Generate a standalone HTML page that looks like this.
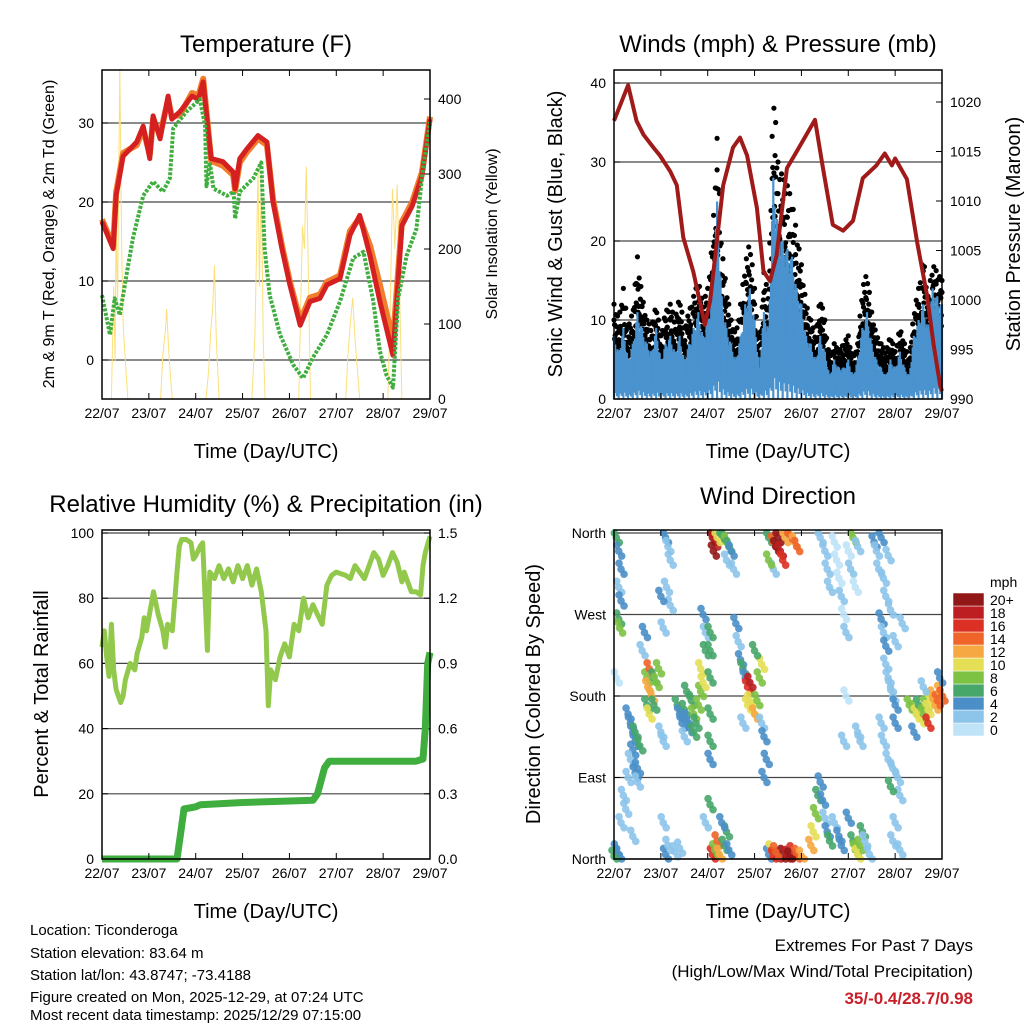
<!DOCTYPE html>
<html><head><meta charset="utf-8"><style>
body{margin:0;background:#fff;}
svg{font-family:"Liberation Sans",sans-serif;}
</style></head><body>
<svg id="c" width="1024" height="1024" viewBox="0 0 1024 1024">
<text x="266" y="52" font-size="24" text-anchor="middle">Temperature (F)</text>
<text x="778" y="52" font-size="24" text-anchor="middle">Winds (mph) &amp; Pressure (mb)</text>
<text x="266" y="512" font-size="24" text-anchor="middle">Relative Humidity (%) &amp; Precipitation (in)</text>
<text x="778" y="504" font-size="24" text-anchor="middle">Wind Direction</text>
<text transform="translate(54,234) rotate(-90)" font-size="16" text-anchor="middle">2m &amp; 9m T (Red, Orange) &amp; 2m Td (Green)</text>
<text transform="translate(497,234) rotate(-90)" font-size="16" text-anchor="middle">Solar Insolation (Yellow)</text>
<text transform="translate(562,234) rotate(-90)" font-size="20" text-anchor="middle">Sonic Wind &amp; Gust (Blue, Black)</text>
<text transform="translate(1020,234) rotate(-90)" font-size="20" text-anchor="middle">Station Pressure (Maroon)</text>
<text transform="translate(48,694) rotate(-90)" font-size="20" text-anchor="middle">Percent &amp; Total Rainfall</text>
<text transform="translate(540,694) rotate(-90)" font-size="20" text-anchor="middle">Direction (Colored By Speed)</text>
<g font-size="15">
<text x="30" y="935">Location: Ticonderoga</text>
<text x="30" y="958">Station elevation: 83.64 m</text>
<text x="30" y="980">Station lat/lon: 43.8747; -73.4188</text>
<text x="30" y="1002">Figure created on Mon, 2025-12-29, at 07:24 UTC</text>
<text x="30" y="1020">Most recent data timestamp: 2025/12/29 07:15:00</text>
</g>
<g font-size="17" text-anchor="end">
<text x="973" y="951">Extremes For Past 7 Days</text>
<text x="973" y="977">(High/Low/Max Wind/Total Precipitation)</text>
<text x="973" y="1004" fill="#c8202a" font-weight="bold">35/-0.4/28.7/0.98</text>
</g>
</svg>
<script>
// ---------- data ----------
const dayLabels=["22/07","23/07","24/07","25/07","26/07","27/07","28/07","29/07"];
const tempTicks=[0,10,20,30];
const solarTicks=[0,100,200,300,400];
const windTicks=[0,10,20,30,40];
const presTicks=[990,995,1000,1005,1010,1015,1020];
const rhTicks=[0,20,40,60,80,100];
const rainTicks=["0.0","0.3","0.6","0.9","1.2","1.5"];
const dirLabels=["North","East","South","West","North"];
const speedLabels=["0","2","4","6","8","10","12","14","16","18","20+"];
const speedColors=["#bfe3f7","#8cc4ea","#4a8fc8","#47a66a","#7dc242","#e4df55","#f6a842","#ee6429","#dc3024","#bd1e22","#921818"];

const tempRed=[[0,17.5],[0.24,14.1],[0.3,20.8],[0.45,25.8],[0.74,27.6],[0.88,29.6],[1.02,25.5],[1.09,30.9],[1.24,28],[1.41,33.4],[1.49,30.5],[1.66,31.4],[1.92,33.4],[2.06,33],[2.16,35.2],[2.26,29.3],[2.33,25.5],[2.58,25.1],[2.8,23.8],[2.84,21.7],[2.94,25.5],[3.09,26.7],[3.33,28.4],[3.52,27.6],[3.65,20],[3.84,14.1],[4.01,9.5],[4.23,4.4],[4.44,7.4],[4.65,7.8],[4.8,9.5],[5.08,10.3],[5.29,15.8],[5.5,18.3],[5.72,13.2],[5.93,7.4],[6.21,0.6],[6.4,17],[6.62,19.5],[6.83,23.3],[7.0,30.5]];
const tempOrange=[[0,17.8],[0.24,14.5],[0.3,21.2],[0.45,26.2],[0.74,27.2],[0.88,29.2],[1.02,26],[1.09,30.5],[1.24,28.5],[1.41,33],[1.49,30.8],[1.66,31],[1.92,33.8],[2.06,33.5],[2.16,35.6],[2.26,29.6],[2.33,25.2],[2.58,24.6],[2.8,23.4],[2.84,21.4],[2.94,25],[3.09,26.3],[3.33,28],[3.52,27.2],[3.65,20.4],[3.84,14.5],[4.01,9.9],[4.23,5],[4.44,7.9],[4.65,8.3],[4.8,9.9],[5.08,10.7],[5.29,16.3],[5.5,18],[5.72,14.5],[5.93,9.5],[6.21,2.5],[6.4,17.5],[6.62,20],[6.83,23.8],[7.0,30.8]];
const tempGreen=[[0,8.2],[0.17,3.2],[0.27,7.8],[0.38,5.7],[0.52,10.7],[0.66,15.4],[0.88,20.8],[1.09,22.6],[1.3,21.3],[1.45,23],[1.52,29.3],[1.8,31.4],[2.09,33],[2.2,29.6],[2.23,22],[2.3,25],[2.38,21.7],[2.67,20.8],[2.81,21.3],[2.84,17.9],[2.94,21.3],[3.23,23],[3.4,25],[3.47,14.1],[3.58,8.2],[3.8,3.2],[4.08,-0.6],[4.29,-2.3],[4.5,0.3],[4.8,3.2],[5.08,7.4],[5.36,12.9],[5.58,13.7],[5.79,7.4],[5.93,1.1],[6.07,-1.9],[6.21,-3.5],[6.32,7.8],[6.5,13.2],[6.71,16.6],[6.85,24.2],[7.0,30.1]];
const solar=[[0,0],[0.2,0],[0.25,150],[0.28,50],[0.3,250],[0.33,120],[0.38,440],[0.42,200],[0.45,100],[0.5,50],[0.55,0],[1.25,0],[1.3,60],[1.35,90],[1.38,120],[1.42,70],[1.45,40],[1.5,0],[2.22,0],[2.28,40],[2.32,90],[2.36,120],[2.4,178],[2.44,80],[2.5,0],[3.2,0],[3.26,80],[3.3,200],[3.33,310],[3.36,150],[3.4,300],[3.44,80],[3.48,0],[4.2,0],[4.25,150],[4.28,230],[4.32,200],[4.36,310],[4.4,180],[4.45,0],[5.2,0],[5.25,60],[5.3,100],[5.35,135],[5.4,80],[5.5,0],[6.1,0],[6.15,120],[6.2,280],[6.25,200],[6.3,286],[6.35,150],[6.4,0],[7,0]];

const windHi=[8,6,9,5,7,11,9,7,6,9,5,7,8,6,8,5,7,9,11,8,10,14,25,13,9,7,5,8,12,14,10,4,11,9,28,22,20,19,18,14,12,8,7,5,8,6,3,5,4,4,5,3,5,9,11,7,5,4,3,5,4,6,4,3,8,10,12,9,14,13,12];
const gustHi=[12,10,14,9,11,18,13,10,9,12,8,11,12,10,13,9,11,13,15,12,14,20,33,19,14,10,8,12,17,20,14,6,16,13,40,30,28,27,25,21,17,12,10,8,13,10,5,7,6,7,8,5,7,14,16,11,8,7,6,8,6,9,7,5,11,14,18,13,17,16,15];
const pressure=[[0,1018.1],[0.3,1021.7],[0.48,1018.1],[0.63,1016.7],[0.84,1015.4],[0.98,1014.6],[1.2,1013],[1.34,1011.6],[1.48,1006.3],[1.69,1002.9],[1.94,997.5],[2.05,999.9],[2.33,1011.6],[2.54,1015.4],[2.69,1016.4],[2.84,1014.6],[3.05,1009.3],[3.19,1002.9],[3.33,1001.9],[3.47,1004.5],[3.69,1013.3],[3.9,1015],[4.29,1018.2],[4.46,1013.3],[4.67,1007.6],[4.89,1007],[5.1,1008],[5.31,1012.3],[5.6,1013.6],[5.78,1014.8],[5.93,1013.6],[6.0,1014.3],[6.25,1012.2],[6.47,1005.8],[6.68,1000.5],[6.82,995.5],[6.96,991.4],[7.0,990.8]];

const rh=[[0,65],[0.05,70],[0.1,62],[0.15,56],[0.2,72],[0.25,58],[0.3,52],[0.4,48],[0.45,50],[0.5,55],[0.6,60],[0.7,58],[0.75,63],[0.85,68],[0.9,74],[0.95,70],[1.05,78],[1.1,82],[1.2,75],[1.3,70],[1.35,65],[1.4,72],[1.5,70],[1.6,88],[1.65,96],[1.7,98],[1.8,98],[1.9,97],[1.95,92],[2.0,93],[2.1,96],[2.15,97],[2.2,80],[2.25,64],[2.3,88],[2.4,86],[2.5,90],[2.6,86],[2.7,89],[2.8,85],[2.9,90],[3.0,86],[3.1,90],[3.2,84],[3.3,89],[3.4,82],[3.5,70],[3.55,47],[3.6,58],[3.7,55],[3.8,62],[3.9,66],[4.0,62],[4.1,72],[4.2,70],[4.3,80],[4.4,74],[4.5,78],[4.6,75],[4.7,72],[4.8,84],[4.9,87],[5.0,88],[5.2,87],[5.3,86],[5.4,90],[5.5,88],[5.6,86],[5.7,90],[5.8,94],[5.9,92],[6.0,87],[6.1,90],[6.2,94],[6.3,91],[6.4,85],[6.45,88],[6.6,82],[6.7,82],[6.8,81],[6.85,90],[6.9,94],[7.0,99]];
const rain=[[0,0],[1.6,0],[1.68,0.12],[1.75,0.23],[2.0,0.24],[2.1,0.25],[3.0,0.26],[4.5,0.27],[4.6,0.3],[4.75,0.42],[4.85,0.45],[6.7,0.45],[6.85,0.46],[6.9,0.6],[6.95,0.9],[7.0,0.95]];

const dirObs=[[0.05,355,6],[0.1,340,4],[0.15,320,4],[0.1,300,3],[0.15,285,4],[0.1,265,7],[0.12,255,8],[0.05,200,1],
[0.3,160,4],[0.35,150,4],[0.4,140,4],[0.45,130,5],[0.4,120,4],[0.35,110,3],[0.5,100,4],[0.45,95,4],[0.3,90,3],[0.5,85,2],[0.55,125,6],[0.45,140,6],[0.2,70,2],[0.25,55,2],[0.15,40,3],[0.05,10,4],[0.1,5,5],
[0.7,200,8],[0.72,190,12],[0.75,210,14],[0.8,180,12],[0.7,170,6],[0.75,160,10],[0.85,200,7],[0.9,195,9],[0.95,210,8],[0.85,170,6],[0.6,230,3],[0.65,250,4],[1.0,140,3],[1.05,130,2],
[1.1,355,4],[1.15,345,3],[1.2,330,2],[1.12,300,2],[1.2,280,2],[1.0,290,4],[1.05,255,3],[1.1,5,4],[1.15,15,3],[1.05,40,2],
[1.35,170,6],[1.4,160,5],[1.45,150,4],[1.5,165,6],[1.55,155,5],[1.6,145,4],[1.65,175,7],[1.7,160,8],[1.75,150,6],[1.8,170,9],[1.85,185,8],[1.9,195,10],[1.85,210,11],[1.95,230,6],[1.95,250,3],[1.9,270,4],[1.5,135,3],[1.7,140,6],[1.55,185,6],
[2.1,355,20],[2.15,350,18],[2.12,340,20],[2.2,355,10],[2.3,358,7],[2.35,355,6],[2.4,350,8],[2.45,345,6],[2.5,340,4],[2.55,320,3],[2.4,330,3],
[2.1,5,16],[2.15,10,8],[2.2,20,14],[2.25,5,12],[2.35,15,7],[2.4,30,6],[2.45,10,5],[2.3,40,4],
[2.05,250,6],[2.05,230,7],[2.05,200,6],[2.05,160,6],[2.05,130,6],[2.05,110,4],[2.05,60,6],[1.95,40,2],
[2.6,260,4],[2.65,240,3],[2.7,220,5],[2.75,210,6],[2.8,200,4],[2.85,190,17],[2.9,195,18],[2.9,175,10],[2.85,170,10],[2.95,165,11],[3.0,160,12],[3.05,175,9],[3.1,200,9],[3.15,215,10],[3.0,230,6],[3.15,150,3],[3.2,135,4],[3.25,110,4],[2.75,150,3],[3.2,90,4],
[3.3,5,4],[3.35,10,10],[3.4,3,16],[3.5,2,18],[3.6,5,20],[3.7,4,18],[3.8,8,16],[3.9,5,14],[4.0,3,12],[3.45,8,14],[3.75,2,20],
[3.3,355,6],[3.4,350,14],[3.45,345,20],[3.5,355,20],[3.55,340,18],[3.6,330,16],[3.65,355,12],[3.75,358,14],[3.85,350,13],[3.9,345,14],[3.4,320,3],[3.3,330,8],
[4.2,15,12],[4.25,30,10],[4.3,50,8],[4.35,70,7],[4.4,85,4],[4.45,65,4],[4.5,45,3],[4.55,30,4],[4.6,20,6],[4.7,40,3],[4.8,25,5],[4.85,15,4],
[4.4,355,2],[4.5,340,2],[4.55,320,3],[4.6,300,2],[4.7,350,1],[4.75,330,1],[4.8,310,1],[4.85,290,2],[4.9,270,1],[4.95,250,2],[5.0,340,1],[5.05,320,2],[5.1,355,9],[5.2,345,3],[5.15,300,1],
[5.1,20,6],[5.15,10,9],[5.2,5,10],[5.25,15,8],[5.3,30,6],[5.35,20,3],[5.45,5,2],[5.0,45,4],
[5.2,140,2],[5.25,130,2],[4.95,180,1],[4.9,130,2],
[5.55,350,4],[5.6,340,3],[5.65,320,2],[5.7,355,5],[5.75,310,3],[5.8,290,2],[5.9,275,2],[5.85,335,3],
[5.7,265,4],[5.75,250,3],[5.8,235,4],[5.8,215,3],[5.85,200,2],[5.9,190,3],[5.95,180,2],[6.0,170,4],[6.0,150,5],[5.7,150,3],[5.75,130,2],[5.85,110,3],[5.95,100,2],[6.05,90,3],[6.1,70,2],[6.0,40,3],[5.95,20,2],[6.1,10,2],[5.9,80,7],[6.0,240,2],[6.15,260,2],
[6.3,170,8],[6.4,165,9],[6.45,160,10],[6.5,170,7],[6.55,155,11],[6.6,160,8],[6.65,170,8],[6.7,165,10],[6.75,175,11],[6.8,180,13],[6.85,170,12],[6.9,175,14],[6.95,185,13],[7.0,180,15],[6.7,150,16],[6.6,190,2],[6.95,200,4],[6.4,140,5],
[0.0,3,6],[1.3,8,3],[1.4,12,2],[0.4,25,2]];

// ---------- helpers ----------
const NS="http://www.w3.org/2000/svg";
const svg=document.getElementById('c');
function mk(tag,attrs,parent){const e=document.createElementNS(NS,tag);for(const k in attrs)e.setAttribute(k,attrs[k]);(parent||svg).appendChild(e);return e;}
function lin(d0,d1,r0,r1){return v=>r0+(v-d0)/(d1-d0)*(r1-r0);}
function interp(arr,d){const f=d*10;const i=Math.min(arr.length-2,Math.floor(f));const t=f-i;return arr[i]*(1-t)+arr[i+1]*t;}

function panel(x0,y0,name){
  const W=328,H=329;
  const g=mk('g',{});
  
  
  const xs=lin(0,7,x0,x0+W);
  return {g,xs,x0,y0,W,H};
}
function frame(p){
  const r=mk('rect',{x:p.x0,y:p.y0,width:p.W,height:p.H,fill:'none',stroke:'#000','stroke-width':1.5},p.g);
  
  
  for(let i=0;i<dayLabels.length;i++){
    const x=p.xs(i);
    mk('line',{x1:x,x2:x,y1:p.y0+p.H,y2:p.y0+p.H-6,stroke:'#000'},p.g);
    mk('line',{x1:x,x2:x,y1:p.y0,y2:p.y0+6,stroke:'#000'},p.g);
    const t=mk('text',{x:x,y:p.y0+p.H+19,'font-size':14,'text-anchor':'middle'},p.g);
    t.textContent=dayLabels[i];
    
    
  }
  const t=mk('text',{x:p.x0+p.W/2,y:p.y0+p.H+59,'font-size':20,'text-anchor':'middle'},p.g);
  t.textContent='Time (Day/UTC)';
  
  
}
function yAxis(p,ticks,ys,side,labels,grid){
  ticks.forEach((v,i)=>{
    const y=ys(v);
    if(grid) mk('line',{x1:p.x0,x2:p.x0+p.W,y1:y,y2:y,stroke:'#444','stroke-width':1.2},p.g);
    const xe=side==='l'?p.x0:p.x0+p.W;
    mk('line',{x1:xe,x2:side==='l'?xe+6:xe-6,y1:y,y2:y,stroke:'#000'},p.g);
    const t=mk('text',{x:side==='l'?p.x0-8:p.x0+p.W+8,y:y+5,'font-size':14,'text-anchor':side==='l'?'end':'start'},p.g);
    t.textContent=labels?labels[i]:v;
    
    
  });
}
function path(pts,xs,ys){return pts.map((q,i)=>(i?'L':'M')+xs(q[0]).toFixed(1)+','+ys(q[1]).toFixed(1)).join('');}

// ---------- Temperature ----------
(function(){
  const p=panel(102,70,'temperature-panel');
  const yT=lin(0,10,360,281), yS=lin(0,100,399,324);
  yAxis(p,tempTicks,yT,'l',null,true);
  yAxis(p,solarTicks,yS,'r',null,false);
  const s=mk('path',{d:path(solar,p.xs,yS),fill:'none',stroke:'#fbe07a','stroke-width':1},p.g);
  
  
  const o=mk('path',{d:path(tempOrange,p.xs,yT),fill:'none',stroke:'#f27d2e','stroke-width':6,'stroke-linejoin':'round'},p.g);
  
  
  const r=mk('path',{d:path(tempRed,p.xs,yT),fill:'none',stroke:'#d42020','stroke-width':5,'stroke-linejoin':'round'},p.g);
  
  
  const gr=mk('path',{d:path(tempGreen,p.xs,yT),fill:'none',stroke:'#3fae3f','stroke-width':4,'stroke-dasharray':'3 1.5','stroke-linejoin':'round'},p.g);
  
  
  frame(p);
})();

// ---------- Winds ----------
(function(){
  const p=panel(614,70,'winds-panel');
  const yW=lin(0,10,399,320), yP=lin(990,995,399,349.5);
  yAxis(p,windTicks,yW,'l',null,true);
  yAxis(p,presTicks,yP,'r',null,false);
  const gg=mk('g',{fill:'#000'},p.g);
  
  
  const bg=mk('g',{stroke:'#4a93cf','stroke-width':2.2},p.g);
  
  
  const lowF=[0,0.35,0.1,0.5,0.2,0.05,0.4,0.15];
  const topF=[1,0.75,0.92,0.6,0.85,0.7,0.97,0.65];
  const gF=[1,0.8,0.7,0.95,0.65,0.85,1,0.6,0.9,0.7];
  let k=0;
  for(let d=0;d<=7.0001;d+=0.0125,k++){
    const hi=interp(windHi,d), gu=interp(gustHi,d);
    const x=p.xs(d);
    mk('line',{x1:x,x2:x,y1:yW(hi*lowF[k%8]),y2:yW(hi*topF[k%8])},bg);
    const gv=Math.max(hi*topF[k%8],gu*gF[k%10]);
    mk('circle',{cx:x,cy:yW(gv),r:2.6},gg);
    mk('circle',{cx:x,cy:yW((gv+hi*topF[k%8])/2),r:2.6},gg);
  }
  const pr=mk('path',{d:path(pressure,p.xs,yP),fill:'none',stroke:'#a01a1a','stroke-width':4,'stroke-linejoin':'round'},p.g);
  
  
  frame(p);
})();

// ---------- RH ----------
(function(){
  const p=panel(102,530,'humidity-panel');
  const yR=lin(0,100,859,533), yI=lin(0,1.5,859,533);
  yAxis(p,rhTicks,yR,'l',null,true);
  yAxis(p,rainTicks.map(Number),yI,'r',rainTicks,false);
  const l=mk('path',{d:path(rh,p.xs,yR),fill:'none',stroke:'#92c94c','stroke-width':5,'stroke-linejoin':'round'},p.g);
  
  
  const r=mk('path',{d:path(rain,p.xs,yI),fill:'none',stroke:'#3fae3f','stroke-width':7,'stroke-linejoin':'round'},p.g);
  
  
  frame(p);
})();

// ---------- Wind direction ----------
(function(){
  const p=panel(614,530,'wind-direction-panel');
  const yD=lin(0,360,859,533);
  yAxis(p,[0,90,180,270,360],yD,'l',dirLabels,true);
  const dg=mk('g',{'fill-opacity':0.9},p.g);
  
  
  const offs=[[0,0],[3,5],[-2,-6]];
  dirObs.forEach(o=>{
    const b=Math.min(10,Math.floor(o[2]/2));
    offs.forEach(of=>{
      const cy=Math.min(859,Math.max(533,yD(o[1])+of[1]));
      const c=mk('circle',{cx:p.xs(o[0])+of[0],cy:cy,r:3.8,fill:speedColors[b]},dg);
      
      
    });
  });
  frame(p);
  const lg=mk('g',{});
  
  
  const t=mk('text',{x:990,y:587,'font-size':14},lg);
  t.textContent='mph';
  speedLabels.forEach((s,i)=>{
    const y=723-i*13;
    mk('rect',{x:953,y:y,width:31,height:13,fill:speedColors[i],stroke:'#fff','stroke-width':0.5},lg);
    const tt=mk('text',{x:990,y:y+12,'font-size':14},lg);
    tt.textContent=s;
    
    
  });
})();
</script>
</body></html>
